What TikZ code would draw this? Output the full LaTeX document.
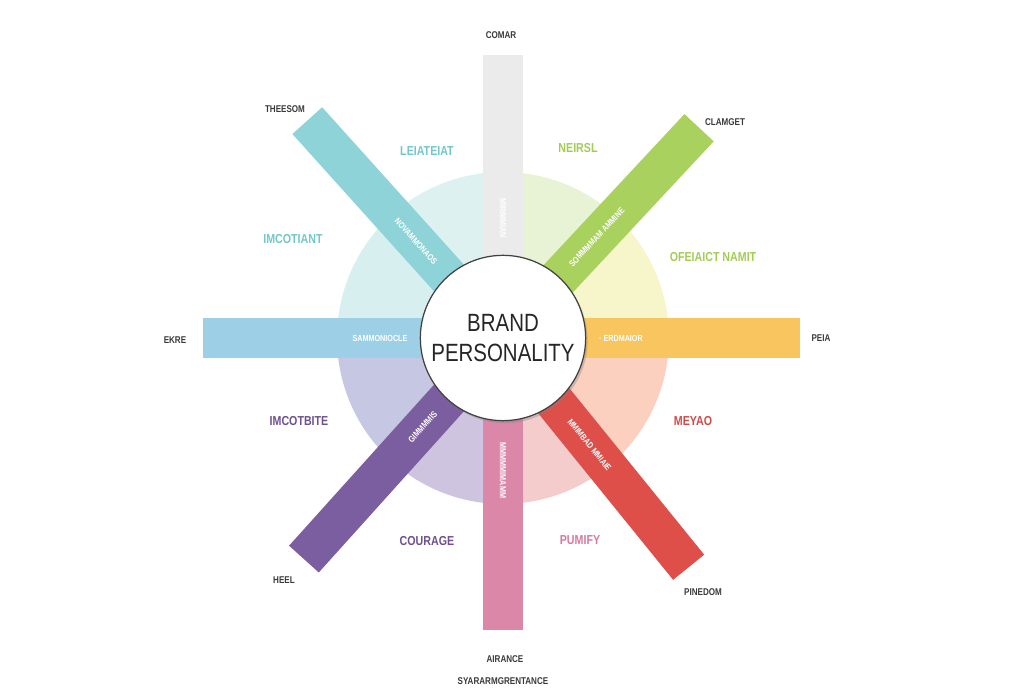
\documentclass[tikz,border=0pt]{standalone}
\usepackage{fontspec}
\setmainfont{Liberation Sans}
\newfontfamily\condfont[FakeStretch=0.82]{Liberation Sans}
\usepackage{tikz}
\usetikzlibrary{positioning,shadows}
\definecolor{barGray}{HTML}{EBEBEB}
\definecolor{barGreen}{HTML}{A8D15E}
\definecolor{barOrange}{HTML}{F9C55E}
\definecolor{barRed}{HTML}{DE4F4A}
\definecolor{barPink}{HTML}{DB87A8}
\definecolor{barPurple}{HTML}{7B5EA0}
\definecolor{barBlue}{HTML}{9DD0E6}
\definecolor{barTeal}{HTML}{8DD3D8}
\definecolor{wedgeA}{HTML}{DDF1F0}
\definecolor{wedgeB}{HTML}{E8F3D6}
\definecolor{wedgeC}{HTML}{F7F5CA}
\definecolor{wedgeD}{HTML}{FBD0BE}
\definecolor{wedgeE}{HTML}{F4CCCC}
\definecolor{wedgeF}{HTML}{CFC4DF}
\definecolor{wedgeG}{HTML}{C5C7E3}
\definecolor{wedgeH}{HTML}{D8EFEF}
\definecolor{labTeal}{HTML}{72C7CB}
\definecolor{labGreen}{HTML}{A3CC55}
\definecolor{labPurple}{HTML}{6E4F91}
\definecolor{labRed}{HTML}{D04A45}
\definecolor{labPink}{HTML}{D9789C}
\definecolor{txtDark}{HTML}{3A3A3A}
\tikzset{
    bar text/.style={text=white, font=\condfont\bfseries\fontsize{5}{6}\selectfont, inner sep=0pt},
    outer label/.style={text=txtDark, font=\condfont\bfseries\fontsize{5.6}{6}\selectfont},
    trait label/.style={font=\condfont\bfseries\fontsize{7.4}{8}\selectfont},
    hub/.style={circle, fill=white, draw=black!75, line width=0.7pt, minimum size=3.2cm,
        align=center, font=\condfont\fontsize{14.2}{18}\selectfont, text=black!85,
        drop shadow={opacity=0.35, shadow xshift=0.04cm, shadow yshift=-0.05cm}}
}

\begin{document}
\begin{tikzpicture}
    \useasboundingbox (-10.06,-7.18) rectangle (10.42,6.76);
    \fill[white] (-10.06,-7.18) rectangle (10.42,6.76);

    % pastel wedges
    \fill[wedgeA] (0,0) -- (90:3.32) arc[start angle=90, end angle=135, radius=3.32] -- cycle;
    \fill[wedgeB] (0,0) -- (45:3.32) arc[start angle=45, end angle=90, radius=3.32] -- cycle;
    \fill[wedgeC] (0,0) -- (0:3.32) arc[start angle=0, end angle=45, radius=3.32] -- cycle;
    \fill[wedgeD] (0,0) -- (-45:3.32) arc[start angle=-45, end angle=0, radius=3.32] -- cycle;
    \fill[wedgeE] (0,0) -- (-90:3.32) arc[start angle=-90, end angle=-45, radius=3.32] -- cycle;
    \fill[wedgeF] (0,0) -- (-135:3.32) arc[start angle=-135, end angle=-90, radius=3.32] -- cycle;
    \fill[wedgeG] (0,0) -- (180:3.32) arc[start angle=180, end angle=225, radius=3.32] -- cycle;
    \fill[wedgeH] (0,0) -- (135:3.32) arc[start angle=135, end angle=180, radius=3.32] -- cycle;

    % bars
    \fill[barGray, rotate=90] (0,-0.4) rectangle (5.66,0.4);
    \fill[barGreen, rotate=47] (0,-0.4) rectangle (5.75,0.4);
    \fill[barOrange] (0,-0.4) rectangle (5.94,0.4);
    \fill[barRed, rotate=-51] (0,-0.4) rectangle (5.9,0.4);
    \fill[barPink, rotate=-90] (0,-0.4) rectangle (5.84,0.4);
    \fill[barPurple, rotate=228] (0,-0.4) rectangle (5.95,0.4);
    \fill[barBlue, rotate=180] (0,-0.4) rectangle (6.0,0.4);
    \fill[barTeal, rotate=132] (0,-0.4) rectangle (5.85,0.4);

    % texts on the bars
    \node[bar text, rotate=-90] (ttop) at (90:2.4) {MIRIMMIAN};
    \node[bar text, rotate=47] (tne) at (47:2.75) {SOMMMMAM AMMINE};
    \node[bar text] (teast) at (0:2.36) {\textperiodcentered\ ERDMAIOR};
    \node[bar text, rotate=-51] (tse) at (-51:2.75) {MMIMBAD MMIAIE};
    \node[bar text, rotate=-90] (tbottom) at (-90:2.65) {MMMMMIMAMM};
    \node[bar text, rotate=48] (tsw) at (228:2.4) {GIMMMMIS};
    \node[bar text] (twest) at (180:2.46) {SAMMONIOCLE};
    \node[bar text, rotate=-48] (tnw) at (132:2.6) {NOVAMMONAOS};

    % centre
    \node[hub] (hub) at (0,0) {BRAND\\[-1pt]PERSONALITY};

    % trait labels
    \node[trait label, text=labTeal] (lnw) at (-1.52,3.74) {LEIATEIAT};
    \node[trait label, text=labGreen] (lne) at (1.5,3.8) {NEIRSL};
    \node[trait label, text=labTeal] (lwnw) at (-4.2,1.98) {IMCOTIANT};
    \node[trait label, text=labGreen] (lene) at (4.2,1.62) {OFEIAICT NAMIT};
    \node[trait label, text=labPurple] (lwsw) at (-4.08,-1.66) {IMCOTBITE};
    \node[trait label, text=labRed] (lese) at (3.8,-1.66) {MEYAO};
    \node[trait label, text=labPurple] (lsw) at (-1.52,-4.06) {COURAGE};
    \node[trait label, text=labPink] (lse) at (1.54,-4.04) {PUMIFY};

    % outer labels
    \node[outer label] (otop) at (-0.04,6.06) {COMAR};
    \node[outer label] (onw) at (-4.36,4.58) {THEESOM};
    \node[outer label] (one) at (4.44,4.32) {CLAMGET};
    \node[outer label] (owest) at (-6.56,-0.04) {EKRE};
    \node[outer label] (oeast) at (6.36,0) {PEIA};
    \node[outer label] (osw) at (-4.38,-4.84) {HEEL};
    \node[outer label] (ose) at (4.0,-5.08) {PINEDOM};
    \node[outer label] (obottom) at (0.04,-6.42) {AIRANCE};
    \node[outer label] (ofoot) at (0,-6.86) {SYARARMGRENTANCE};
\end{tikzpicture}
\end{document}
